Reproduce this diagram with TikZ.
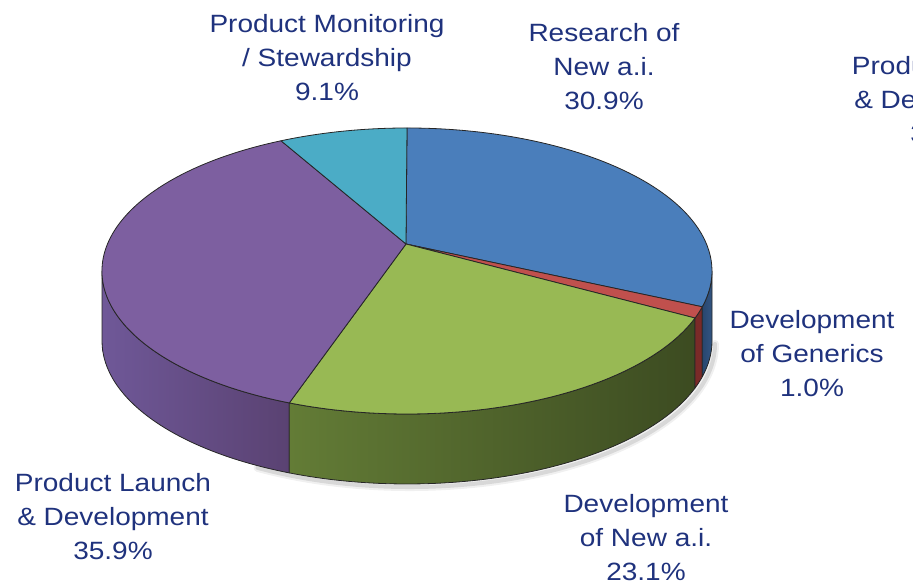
\documentclass[tikz,border=0pt]{standalone}
\usepackage{fontspec}
\setmainfont{Liberation Sans}
\usetikzlibrary{calc}
\definecolor{labelblue}{RGB}{31,50,125}
\definecolor{topblue}{RGB}{74,126,187}
\definecolor{topred}{RGB}{192,80,77}
\definecolor{topgreen}{RGB}{152,185,84}
\definecolor{toppurple}{RGB}{125,95,160}
\definecolor{topcyan}{RGB}{75,172,198}
\definecolor{sidepurpleL}{RGB}{111,88,152}
\definecolor{sidepurpleR}{RGB}{90,66,114}
\definecolor{sidegreenL}{RGB}{99,124,54}
\definecolor{sidegreenR}{RGB}{60,75,33}
\definecolor{sidered}{RGB}{122,42,40}
\definecolor{sideblueL}{RGB}{40,70,110}
\definecolor{sideblueR}{RGB}{50,85,130}
\newcommand\pieside[4]{%
  \shade[left color=#3,right color=#4]
    ($(C)+(#1:305pt and 143pt)$) arc[start angle=#1,end angle=#2,x radius=305pt,y radius=143pt]
    -- ++(0,-70pt) arc[start angle=#2,end angle=#1,x radius=305pt,y radius=143pt] -- cycle;
  \draw[edge]
    ($(C)+(#1:305pt and 143pt)$) arc[start angle=#1,end angle=#2,x radius=305pt,y radius=143pt]
    -- ++(0,-70pt) arc[start angle=#2,end angle=#1,x radius=305pt,y radius=143pt] -- cycle;}
\newcommand\pietop[3]{%
  \fill[#3] (A) -- ($(C)+(#1:305pt and 143pt)$) arc[start angle=#1,end angle=#2,x radius=305pt,y radius=143pt] -- cycle;
  \draw[edge] (A) -- ($(C)+(#1:305pt and 143pt)$) arc[start angle=#1,end angle=#2,x radius=305pt,y radius=143pt] -- cycle;}
\begin{document}
\begin{tikzpicture}[x=1pt,y=1pt,
  edge/.style={draw=black!85, line width=0.8pt, line join=round},
  shadowline/.style={draw=black, line cap=round},
  lbl/.style={text=labelblue, align=center, inner sep=0pt, font=\fontsize{25}{34}\selectfont, xscale=1.12}]
\useasboundingbox (0,0) rectangle (913,585);
\clip (0,0) rectangle (913,585);
\coordinate (C) at (407,314);
\coordinate (A) at (406,341);
\coordinate (S) at (410,241);
% soft shadow under the pie
\draw[shadowline, line width=8pt, opacity=0.06] ($(S)+(-120:305pt and 143pt)$) arc[start angle=-120,end angle=0,x radius=305pt,y radius=143pt];
\draw[shadowline, line width=4pt, opacity=0.10] ($(S)+(-120:305pt and 143pt)$) arc[start angle=-120,end angle=0,x radius=305pt,y radius=143pt];
% sides
\pieside{-180}{-112.7}{sidepurpleL}{sidepurpleR}
\pieside{-112.7}{-19.2}{sidegreenL}{sidegreenR}
\pieside{-19.2}{-14.5}{sidered}{sidered}
\pieside{-14.5}{0}{sideblueL}{sideblueR}
% tops
\pietop{-14.5}{90}{topblue}
\pietop{-19.2}{-14.5}{topred}
\pietop{-112.7}{-19.2}{topgreen}
\pietop{114.4}{247.3}{toppurple}
\pietop{90}{114.4}{topcyan}
% labels
\node[lbl] (mon) at (327,527) {Product Monitoring\\/ Stewardship\\9.1\%};
\node[lbl] (res) at (604,518) {Research of\\New a.i.\\30.9\%};
\node[lbl] (gen) at (812,231) {Development\\of Generics\\1.0\%};
\node[lbl] (new) at (646,47) {Development\\of New a.i.\\23.1\%};
\node[lbl] (lau) at (113,68) {Product Launch\\\& Development\\35.9\%};
\node[lbl] (lau2) at (950,485) {Product Launch\\\& Development\\35.9\%};
\end{tikzpicture}
\end{document}
